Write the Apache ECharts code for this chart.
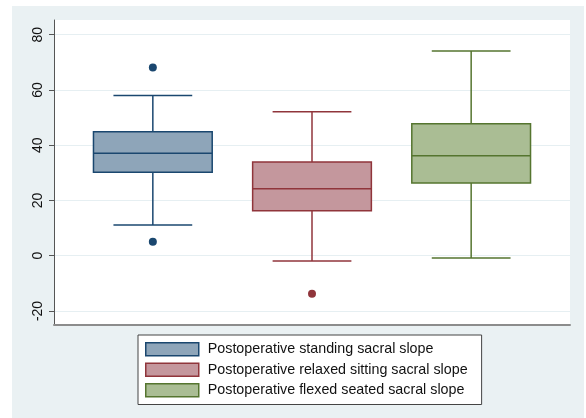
<!DOCTYPE html>
<html><head><meta charset="utf-8">
<script src="https://cdn.jsdelivr.net/npm/echarts@6/dist/echarts.min.js"></script>
<style>html,body{margin:0;padding:0;background:#fff}#c{width:586px;height:418px}</style>
</head><body><div id="c"></div>
<script>
const seriesNames = [
  'Postoperative standing sacral slope',
  'Postoperative relaxed sitting sacral slope',
  'Postoperative flexed seated sacral slope'
];
const positions = [1, 2, 3];
// [lower whisker, Q1, median, Q3, upper whisker]
const standingBox = [11.1, 30.2, 37.1, 44.9, 58.0];
const relaxedBox = [-1.9, 16.3, 24.2, 33.9, 52.1];
const flexedBox = [-0.8, 26.3, 36.2, 47.8, 74.1];
const standingOutliers = [68.1, 5.1];
const relaxedOutliers = [-13.8];
const flexedOutliers = [];
const yTicks = [-20, 0, 20, 40, 60, 80];

const lineColors = ['#1a476f', '#90353b', '#55752f'];
const fillColors = ['#8ea5b9', '#c4979d', '#aabd94'];
const boxes = [standingBox, relaxedBox, flexedBox];
const outliers = [standingOutliers, relaxedOutliers, flexedOutliers];

const BOX_W = 0.746, CAP_W = 0.495, LW = 1.5;

function makeRender(i) {
  return function (params, api) {
    const x = api.value(0);
    const pLo = api.coord([x, api.value(1)]);
    const pQ1 = api.coord([x, api.value(2)]);
    const pMed = api.coord([x, api.value(3)]);
    const pQ3 = api.coord([x, api.value(4)]);
    const pHi = api.coord([x, api.value(5)]);
    const cx = pMed[0];
    const half = api.size([BOX_W, 0])[0] / 2;
    const capHalf = api.size([CAP_W, 0])[0] / 2;
    const stroke = lineColors[i];
    const ls = { stroke: stroke, lineWidth: LW, fill: null };
    return {
      type: 'group',
      children: [
        { type: 'line', shape: { x1: cx, y1: pQ3[1], x2: cx, y2: pHi[1] }, style: ls },
        { type: 'line', shape: { x1: cx, y1: pQ1[1], x2: cx, y2: pLo[1] }, style: ls },
        { type: 'line', shape: { x1: cx - capHalf, y1: pHi[1], x2: cx + capHalf, y2: pHi[1] }, style: ls },
        { type: 'line', shape: { x1: cx - capHalf, y1: pLo[1], x2: cx + capHalf, y2: pLo[1] }, style: ls },
        { type: 'rect', shape: { x: cx - half, y: pQ3[1], width: 2 * half, height: pQ1[1] - pQ3[1] },
          style: { fill: fillColors[i], stroke: stroke, lineWidth: LW } },
        { type: 'line', shape: { x1: cx - half, y1: pMed[1], x2: cx + half, y2: pMed[1] }, style: ls }
      ]
    };
  };
}

const series = [];
boxes.forEach(function (b, i) {
  series.push({
    name: seriesNames[i],
    type: 'custom',
    renderItem: makeRender(i),
    itemStyle: { color: fillColors[i], borderColor: lineColors[i], borderWidth: LW },
    encode: { x: 0, y: [1, 2, 3, 4, 5] },
    data: [[positions[i]].concat(b)],
    z: 3
  });
});
outliers.forEach(function (o, i) {
  series.push({
    name: 'outliers' + i,
    type: 'scatter',
    symbol: 'circle',
    symbolSize: 8,
    itemStyle: { color: lineColors[i], opacity: 1 },
    data: o.map(function (v) { return [positions[i], v]; }),
    z: 4
  });
});

const chart = echarts.init(document.getElementById('c'), null, { renderer: 'canvas' });
chart.setOption({
  backgroundColor: '#ffffff',
  animation: false,
  graphic: [{
    type: 'rect', left: 12, top: 6, z: -100,
    shape: { width: 572, height: 412 },
    style: { fill: '#eaf1f3' }
  }],
  grid: {
    left: 54, right: 16, top: 20, bottom: 93,
    show: true, backgroundColor: '#ffffff', borderWidth: 0
  },
  xAxis: {
    type: 'value', min: 0.379, max: 3.621,
    axisLine: { show: true, onZero: false, lineStyle: { color: '#8c8c8c', width: 2 } },
    axisTick: { show: false }, axisLabel: { show: false }, splitLine: { show: false }
  },
  yAxis: {
    type: 'value', min: -25.07, max: 85.3,
    axisLine: { show: true, lineStyle: { color: '#555', width: 1 } },
    axisTick: { show: true, length: 5, lineStyle: { color: '#555' }, customValues: yTicks },
    axisLabel: {
      rotate: 90, margin: 9, fontSize: 14, color: '#111',
      fontFamily: 'Liberation Sans, Arial, sans-serif', customValues: yTicks
    },
    splitLine: { show: true, lineStyle: { color: '#e6eff2', width: 1 } }
  },
  legend: {
    orient: 'vertical', left: 138, top: 335,
    itemWidth: 53, itemHeight: 13, itemGap: 6,
    padding: [7, 14, 7, 7],
    backgroundColor: '#ffffff', borderColor: '#444', borderWidth: 1,
    icon: 'rect',
    textStyle: { fontSize: 14.3, color: '#111', fontFamily: 'Liberation Sans, Arial, sans-serif', padding: [0, 0, 0, 4] },
    data: seriesNames.map(function (n, i) {
      return { name: n, icon: 'rect', itemStyle: { color: fillColors[i], borderColor: lineColors[i], borderWidth: 1.5 } };
    })
  },
  series: series
});
</script>
</body></html>
